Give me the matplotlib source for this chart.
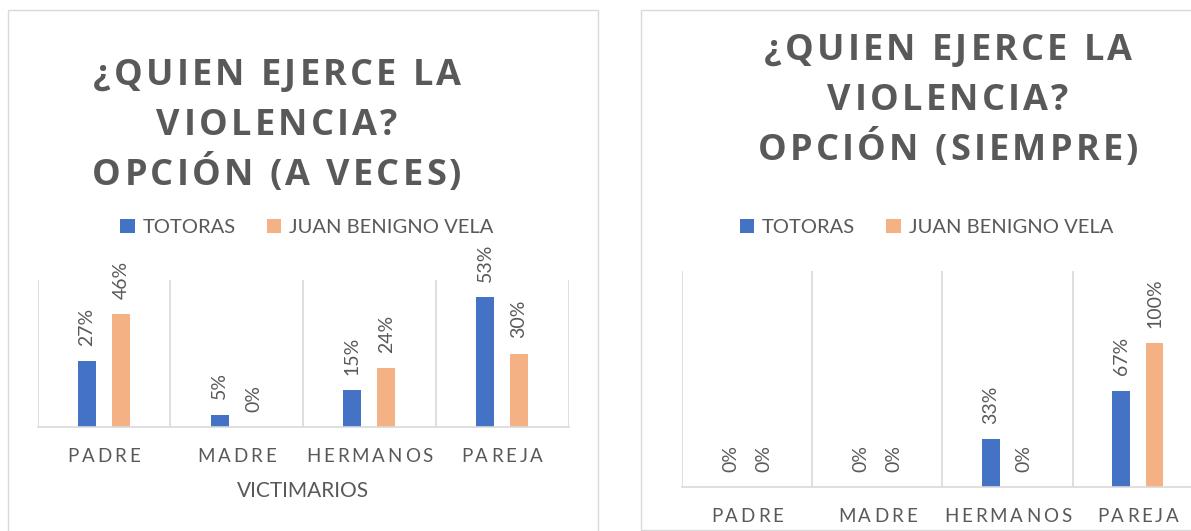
import matplotlib
matplotlib.use("Agg")
import matplotlib.pyplot as plt
from matplotlib.patches import Rectangle
import numpy as np

W, H, DPI = 1191, 531, 100

# --- data ---
categories = ["PADRE", "MADRE", "HERMANOS", "PAREJA"]
series_names = ["TOTORAS", "JUAN BENIGNO VELA"]
a_veces_totoras = [0.27, 0.05, 0.15, 0.53]
a_veces_juan = [0.46, 0.00, 0.24, 0.30]
siempre_totoras = [0.00, 0.00, 0.33, 0.67]
siempre_juan = [0.00, 0.00, 0.00, 1.00]
title_a_veces = ["¿QUIEN EJERCE LA", "VIOLENCIA?", "OPCIÓN (A VECES)"]
title_siempre = ["¿QUIEN EJERCE LA", "VIOLENCIA?", "OPCIÓN (SIEMPRE)"]
x_title = "VICTIMARIOS"

# --- style ---
BLUE = "#4472C4"
ORANGE = "#F4B183"
GRAY = "#595959"
LINE = "#D9D9D9"
FONT = "Lato"
TITLE_FONT = "Open Sans"
BW = 0.135      # bar width (category units)
OFF = 0.128     # bar offset from category centre

fig = plt.figure(figsize=(W / DPI, H / DPI), dpi=DPI)
fig.patch.set_facecolor("white")
renderer = fig.canvas.get_renderer()


def spaced_text(x, y, s, size, spacing, weight="normal", family=FONT):
    """Text centred on x (display px), baseline at y, with extra letter spacing in px."""
    widths = []
    for ch in s:
        if ch == " ":
            widths.append(size * DPI / 72 * 0.26)
            continue
        t = fig.text(0, 0, ch, fontsize=size, fontweight=weight, family=family)
        widths.append(t.get_window_extent(renderer).width)
        t.remove()
    total = sum(widths) + spacing * (len(s) - 1)
    cur = x - total / 2
    for ch, w in zip(s, widths):
        if ch != " ":
            fig.text(cur / W, y / H, ch, fontsize=size, fontweight=weight, family=family,
                     color=GRAY, ha="left", va="baseline")
        cur += w + spacing


def chart(rect, totoras, juan, ymax, title, title_x, title_y0, legend_xy, xlabel=None):
    ax = fig.add_axes(rect)
    x = np.arange(len(categories))
    b1 = ax.bar(x - OFF, totoras, BW, color=BLUE, label=series_names[0])
    b2 = ax.bar(x + OFF, juan, BW, color=ORANGE, label=series_names[1])
    for b in (b1, b2):
        ax.bar_label(b, fmt=lambda v: f"{v:.0%}", rotation=90, padding=11,
                     color=GRAY, fontsize=14, family=FONT)

    ax.set_xlim(-0.5, len(categories) - 0.5)
    ax.set_ylim(0, ymax)
    ax.set_yticks([])
    ax.set_xticks(x)
    ax.set_xticks(np.arange(len(categories) + 1) - 0.5, minor=True)
    ax.tick_params(axis="x", which="both", length=0, labelbottom=False)
    ax.grid(which="minor", axis="x", color=LINE, lw=1.2)
    ax.set_axisbelow(True)
    for s in ("top", "left", "right"):
        ax.spines[s].set_visible(False)
    ax.spines["bottom"].set_color(LINE)
    ax.spines["bottom"].set_linewidth(1.2)
    ax.patch.set_alpha(0)

    # category labels (letter spaced)
    for i, c in enumerate(categories):
        cx, cy = ax.transData.transform((i, 0))
        spaced_text(cx, cy - 34.5, c, 13.5, 2.9)

    if xlabel:
        ax.annotate(xlabel, xy=(0.5, 0), xycoords="axes fraction", xytext=(0, -46),
                    textcoords="offset points", ha="center", va="center",
                    fontsize=15, family=FONT, color=GRAY)

    # title, three lines
    for k, line in enumerate(title):
        spaced_text(title_x, H - (title_y0 + 50 * k), line, 26, 3.3,
                    weight="bold", family=TITLE_FONT)

    ax.legend(loc="center", bbox_to_anchor=(legend_xy[0] / W, 1 - legend_xy[1] / H),
              bbox_transform=fig.transFigure, ncol=2, frameon=False,
              prop={"family": FONT, "size": 14.5}, labelcolor=GRAY,
              handlelength=0.72, handleheight=0.72, handletextpad=0.38,
              columnspacing=1.55, borderpad=0)
    return ax


# chart frames
fig.add_artist(Rectangle((8 / W, -10 / H), 590 / W, (H - 10 + 10) / H,
                         transform=fig.transFigure, fill=False, ec=LINE, lw=1.0))
fig.add_artist(Rectangle((641 / W, (H - 529.5) / H), 600 / W, (529.5 - 10) / H,
                         transform=fig.transFigure, fill=False, ec=LINE, lw=1.0))

chart((37.5 / W, (H - 427) / H, 531 / W, 147 / H), a_veces_totoras, a_veces_juan, 0.6,
      title_a_veces, 277, 85, (307, 227.5), xlabel=x_title)
chart((682 / W, (H - 487) / H, 521 / W, 216 / H), siempre_totoras, siempre_juan, 1.5,
      title_siempre, 948, 60, (926.5, 227.5))

fig.savefig("out.png", dpi=DPI)
